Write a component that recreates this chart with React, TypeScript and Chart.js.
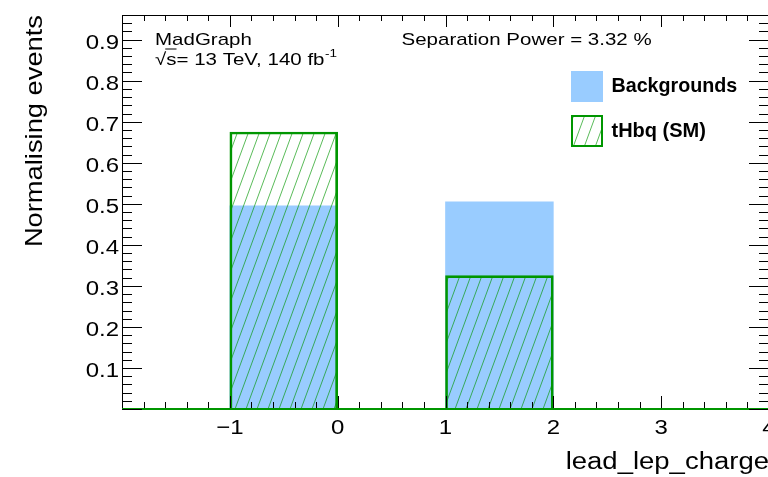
import { useEffect, useRef } from 'react';
import { Chart, registerables } from 'chart.js';

Chart.register(...registerables);

// Histogram binning: unit-wide bins on [-2, 4]
const X_MIN = -2;
const X_MAX = 4;
const Y_MIN = 0;
const Y_MAX = 0.96;
const binCenters = [-1.5, -0.5, 0.5, 1.5, 2.5, 3.5];

// Normalised yields per bin
const backgroundValues = [0, 0.495, 0, 0.505, 0, 0];
const signalValues = [0, 0.675, 0, 0.325, 0, 0];

// Labelled axis ticks
const xTickValues = [-1, 0, 1, 2, 3, 4];
const yTickValues = [0.1, 0.2, 0.3, 0.4, 0.5, 0.6, 0.7, 0.8, 0.9];

const xTitle = 'lead_lep_charge';
const yTitle = 'Normalising events';
const generatorLabel = 'MadGraph';
const separationLabel = 'Separation Power = 3.32 %';
const backgroundName = 'Backgrounds';
const signalName = 'tHbq (SM)';

const GREEN = 'rgb(0,150,0)';
const HATCH_GREEN = 'rgba(0,150,0,0.65)';
const BLUE = 'rgb(153,204,255)';
const FONT = '"Liberation Sans", Arial, Helvetica, sans-serif';

function makeHatch(ctx: CanvasRenderingContext2D) {
  const W = 11;
  const H = 30;
  const c = document.createElement('canvas');
  c.width = W;
  c.height = H;
  const g = c.getContext('2d')!;
  g.strokeStyle = HATCH_GREEN;
  g.lineWidth = 1;
  for (const dx of [-W, 0, W]) {
    g.beginPath();
    g.moveTo(dx - W, 2 * H);
    g.lineTo(dx + 2 * W, -H);
    g.stroke();
  }
  return ctx.createPattern(c, 'repeat')!;
}

function text(
  ctx: CanvasRenderingContext2D,
  str: string,
  x: number,
  y: number,
  size: number,
  opts: { align?: CanvasTextAlign; sy?: number; rotate?: number; bold?: boolean; baseline?: CanvasTextBaseline } = {}
) {
  ctx.save();
  ctx.translate(x, y);
  if (opts.rotate) ctx.rotate(opts.rotate);
  ctx.scale(1, opts.sy ?? 1);
  ctx.font = `${opts.bold ? 'bold ' : ''}${size}px ${FONT}`;
  ctx.textAlign = opts.align ?? 'left';
  ctx.textBaseline = opts.baseline ?? 'alphabetic';
  ctx.fillStyle = '#000';
  ctx.fillText(str, 0, 0);
  const w = ctx.measureText(str).width;
  ctx.restore();
  return w;
}

const rootStyle = {
  id: 'rootStyle',
  beforeDatasetsDraw(chart: Chart) {
    const { ctx, chartArea: a } = chart;
    ctx.save();
    ctx.strokeStyle = '#000';
    ctx.lineWidth = 1;
    ctx.strokeRect(Math.round(a.left) + 0.5, Math.round(a.top) + 0.5, Math.round(a.right - a.left), Math.round(a.bottom - a.top));
    ctx.restore();
  },
  afterDatasetsDraw(chart: Chart) {
    const { ctx, chartArea: a } = chart;
    const xs = chart.scales.x;
    const ys = chart.scales.y;
    ctx.save();
    ctx.strokeStyle = '#000';
    ctx.lineWidth = 1;
    ctx.beginPath();
    // x axis ticks (bottom and top), 5 subdivisions per unit
    const nx = Math.round((X_MAX - X_MIN) / 0.2);
    for (let i = 0; i <= nx; i++) {
      const v = X_MIN + i * 0.2;
      const len = i % 5 === 0 ? 12 : 6;
      const px = Math.round(xs.getPixelForValue(v)) + 0.5;
      ctx.moveTo(px, a.bottom - 1);
      ctx.lineTo(px, a.bottom - 1 - len);
      ctx.moveTo(px, a.top);
      ctx.lineTo(px, a.top + len);
    }
    // y axis ticks (left and right)
    const ny = Math.floor((Y_MAX - Y_MIN) / 0.02 + 1e-6);
    for (let i = 0; i <= ny; i++) {
      const v = Y_MIN + i * 0.02;
      const len = i % 5 === 0 ? 20 : 10;
      const py = Math.round(ys.getPixelForValue(v)) + 0.5;
      ctx.moveTo(a.left, py);
      ctx.lineTo(a.left + len, py);
      ctx.moveTo(a.right, py);
      ctx.lineTo(a.right - len, py);
    }
    ctx.stroke();
    ctx.restore();

    // tick labels
    for (const v of yTickValues) {
      text(ctx, v.toFixed(1), a.left - 3, ys.getPixelForValue(v) + 9, 24, { align: 'right', sy: 0.87 });
    }
    for (const v of xTickValues) {
      const lab = v < 0 ? '\u2212' + Math.abs(v) : String(v);
      text(ctx, lab, xs.getPixelForValue(v), 433.5, 24, { align: 'center', sy: 0.87 });
    }

    // axis titles
    text(ctx, yTitle, 42, a.top, 27.3, { align: 'right', rotate: -Math.PI / 2, sy: 0.85 });
    text(ctx, xTitle, a.right, 468.5, 27.5, { align: 'right', sy: 0.9 });

    // annotations
    const fs = 20.5;
    const sy = 0.84;
    text(ctx, generatorLabel, 155, 45, fs, { sy });
    let x = 155;
    const base2 = 64.5;
    x += text(ctx, '\u221A', x, base2, fs, { sy });
    const ws = text(ctx, 's', x, base2, fs, { sy });
    ctx.save();
    ctx.strokeStyle = '#000';
    ctx.lineWidth = 1;
    ctx.beginPath();
    ctx.moveTo(x - 1, base2 - 15.5);
    ctx.lineTo(x + ws, base2 - 15.5);
    ctx.stroke();
    ctx.restore();
    x += ws;
    x += text(ctx, '= 13 TeV, 140 fb', x, base2, fs, { sy });
    text(ctx, '-1', x + 0.5, base2 - 8, 13.5, { sy });
    text(ctx, separationLabel, 401.5, 45, fs, { sy });

    // legend
    ctx.save();
    ctx.fillStyle = BLUE;
    ctx.fillRect(571, 71, 32, 31);
    ctx.fillStyle = (chart.data.datasets[1] as any).backgroundColor;
    ctx.fillRect(572, 116, 30, 30);
    ctx.strokeStyle = GREEN;
    ctx.lineWidth = 2;
    ctx.strokeRect(572, 116, 30, 30);
    ctx.restore();
    text(ctx, backgroundName, 611.5, 86.5, 19.7, { bold: true, baseline: 'middle' });
    text(ctx, signalName, 611.5, 131.5, 20, { bold: true, baseline: 'middle' });
  },
};

export default function App() {
  const ref = useRef<HTMLCanvasElement>(null);

  useEffect(() => {
    const canvas = ref.current!;
    const hatch = makeHatch(canvas.getContext('2d')!);
    const chart = new Chart(canvas, {
      type: 'bar',
      data: {
        datasets: [
          {
            type: 'line',
            label: 'baseline',
            data: [
              { x: X_MIN, y: 0 },
              { x: X_MAX, y: 0 },
            ],
            borderColor: GREEN,
            borderWidth: 2,
            pointRadius: 0,
            clip: false,
            order: 0,
          } as any,
          {
            label: signalName,
            data: binCenters.map((x, i) => ({ x, y: signalValues[i] })),
            backgroundColor: hatch,
            borderColor: GREEN,
            borderWidth: 2,
            borderSkipped: 'bottom',
            grouped: false,
            barPercentage: 1,
            categoryPercentage: 1,
            order: 1,
          } as any,
          {
            label: backgroundName,
            data: binCenters.map((x, i) => ({ x, y: backgroundValues[i] })),
            backgroundColor: BLUE,
            borderWidth: 0,
            grouped: false,
            barPercentage: 1,
            categoryPercentage: 1,
            order: 2,
          } as any,
        ],
      },
      options: {
        animation: false,
        responsive: true,
        maintainAspectRatio: false,
        devicePixelRatio: 1,
        layout: { padding: { top: 15, right: 31, left: 0, bottom: 0 } },
        plugins: { legend: { display: false }, tooltip: { enabled: false } },
        events: [],
        scales: {
          x: {
            type: 'linear',
            min: X_MIN,
            max: X_MAX,
            offset: false,
            ticks: { display: false, stepSize: 1 },
            grid: { display: false },
            border: { display: false },
            afterFit: (s: any) => {
              s.height = 68;
            },
          },
          y: {
            type: 'linear',
            min: Y_MIN,
            max: Y_MAX,
            ticks: { display: false, stepSize: 0.1 },
            grid: { display: false },
            border: { display: false },
            afterFit: (s: any) => {
              s.width = 122;
            },
          },
        },
      },
      plugins: [rootStyle],
    });
    return () => chart.destroy();
  }, []);

  return (
    <div style={{ position: 'fixed', left: 0, top: 0, width: 768, height: 477, overflow: 'hidden', background: '#fff' }}>
      <div style={{ position: 'relative', width: 800, height: 477 }}>
        <canvas ref={ref} />
      </div>
    </div>
  );
}
